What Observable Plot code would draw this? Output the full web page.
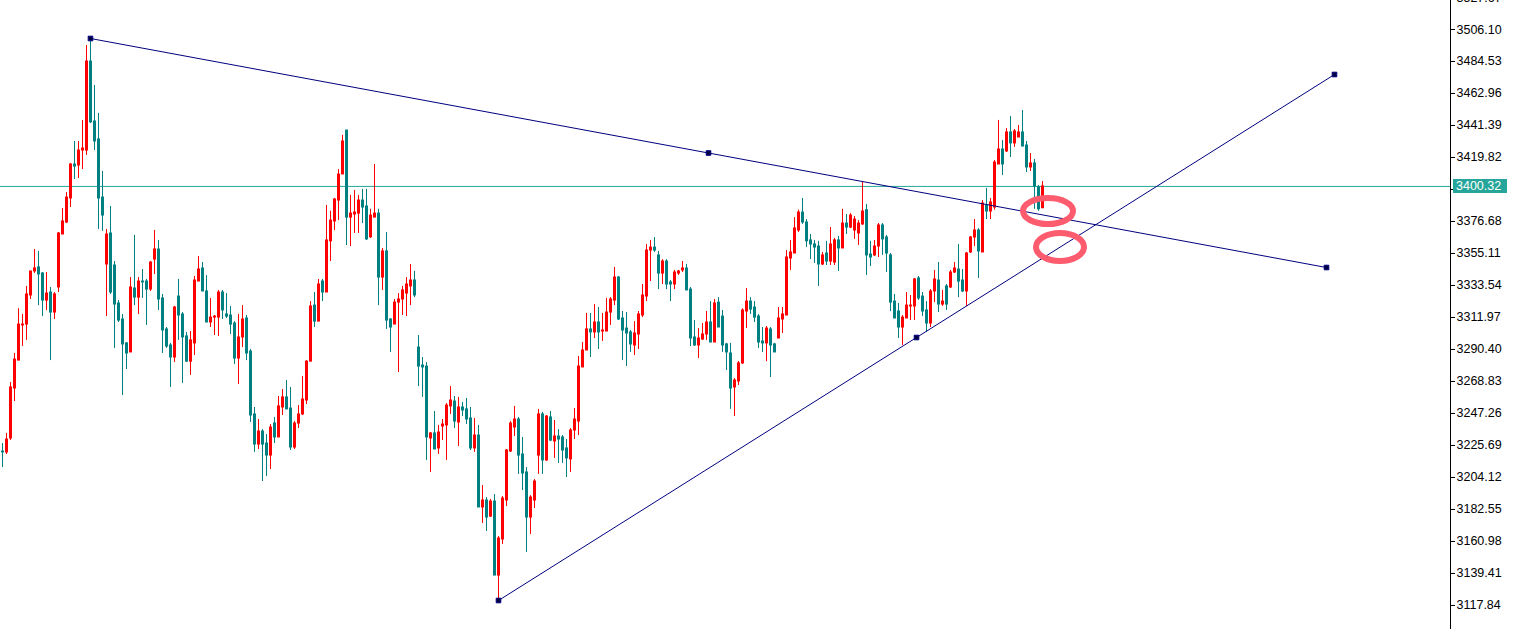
<!DOCTYPE html>
<html><head><meta charset="utf-8">
<script src="https://cdn.jsdelivr.net/npm/d3@7"></script>
<script src="https://cdn.jsdelivr.net/npm/@observablehq/plot@0.6"></script>
<style>
html,body{margin:0;padding:0;background:#fff;overflow:hidden}
#chart svg{display:block}
</style></head><body><div id="chart"></div>
<script>
const opens = [
3221.6,3221.0,3230.4,3264.1,3282.9,3306.6,3307.2,3326.8,3343.0,3345.7,
3341.6,3323.4,3328.8,3315.3,3332.2,3367.9,3376.0,3392.2,3415.1,3414.4,
3424.5,3424.5,3484.5,3444.1,3432.0,3392.8,3347.7,3368.6,3347.0,3321.4,
3310.6,3294.5,3288.4,3331.5,3325.4,3336.2,3336.2,3330.8,3351.0,3357.8,
3324.8,3303.9,3293.1,3285.0,3326.1,3314.0,3299.2,3282.2,3294.5,3336.2,
3345.0,3329.5,3308.6,3311.9,3311.9,3328.8,3314.0,3313.3,3307.9,3284.3,
3298.5,3311.3,3289.0,3246.6,3226.3,3235.1,3227.0,3218.9,3240.5,3231.1,
3251.3,3258.1,3250.6,3224.3,3240.5,3246.6,3256.0,3282.2,3320.0,3309.2,
3336.2,3328.8,3363.3,3376.7,3390.8,3408.4,3438.0,3379.3,3381.4,3382.0,
3390.8,3386.8,3366.0,3379.3,3382.0,3338.9,3356.5,3310.6,3307.2,3322.0,
3324.1,3328.1,3332.9,3336.9,3291.7,3279.6,3278.9,3230.4,3233.8,3223.7,
3238.5,3239.2,3252.0,3255.3,3241.2,3251.3,3250.0,3243.9,3223.7,3232.4,
3183.9,3188.6,3177.7,3187.9,3138.0,3162.3,3188.6,3221.6,3237.8,3243.2,
3219.6,3207.5,3177.1,3188.6,3218.9,3246.6,3215.6,3244.6,3228.4,3231.7,
3231.1,3223.7,3216.3,3235.8,3241.8,3278.3,3289.7,3303.9,3301.9,3308.6,
3302.5,3302.5,3315.3,3323.4,3338.9,3311.3,3304.5,3301.9,3293.1,3300.5,
3313.3,3326.1,3357.1,3359.1,3353.8,3341.6,3349.7,3335.6,3334.2,3341.6,
3343.7,3345.0,3330.8,3298.5,3293.1,3297.1,3300.5,3308.6,3295.1,3322.0,
3312.6,3293.8,3287.7,3264.8,3268.8,3281.0,3316.0,3322.7,3318.7,3312.6,
3295.8,3294.5,3303.9,3293.8,3297.8,3310.6,3313.3,3351.7,3355.1,3370.6,
3382.7,3376.0,3363.9,3361.2,3359.8,3347.7,3355.1,3349.7,3349.0,3363.9,
3358.5,3375.3,3372.6,3370.6,3368.6,3374.7,3384.3,3354.4,3353.8,3359.8,
3374.0,3365.9,3353.8,3322.7,3316.0,3305.2,3311.3,3319.4,3319.4,3338.3,
3326.1,3316.7,3307.9,3329.5,3336.9,3320.7,3332.9,3332.2,3342.3,3344.3,
3336.9,3329.5,3355.8,3365.9,3370.6,3355.8,3387.5,3383.4,3386.1,3415.1,
3425.2,3423.9,3436.7,3429.3,3433.3,3436.7,3427.9,3413.1,3415.8,3399.6,
3385.6];
const highs = [
3227.0,3233.8,3268.1,3287.7,3317.9,3314.0,3332.9,3343.0,3357.8,3356.5,
3342.3,3342.3,3332.2,3328.8,3369.3,3385.4,3396.2,3415.8,3430.6,3430.6,
3444.8,3495.3,3500.0,3468.4,3449.5,3410.4,3371.3,3386.8,3349.7,3323.4,
3314.0,3295.1,3338.9,3367.3,3338.9,3344.3,3337.6,3349.7,3370.6,3363.9,
3327.5,3305.2,3294.5,3319.4,3337.6,3315.3,3301.9,3302.5,3339.6,3353.1,
3349.0,3340.2,3324.8,3313.3,3330.2,3330.2,3328.1,3319.4,3309.2,3314.0,
3320.0,3313.3,3290.4,3251.3,3243.2,3236.4,3233.1,3239.8,3244.6,3258.7,
3263.4,3269.5,3264.8,3241.8,3252.6,3272.2,3282.9,3322.7,3328.8,3337.6,
3337.6,3387.5,3383.6,3392.2,3411.7,3434.7,3438.0,3394.3,3397.6,3394.3,
3398.3,3398.3,3384.9,3415.1,3384.9,3358.5,3369.3,3311.3,3324.1,3328.1,
3332.9,3338.9,3347.7,3343.0,3299.8,3285.0,3281.6,3234.4,3248.6,3239.2,
3243.2,3254.0,3265.4,3258.7,3258.1,3254.7,3257.4,3251.3,3243.9,3239.2,
3198.7,3190.6,3189.3,3192.6,3164.3,3191.3,3223.0,3241.8,3252.0,3244.6,
3231.1,3210.8,3191.9,3202.7,3250.0,3248.0,3245.9,3248.6,3242.5,3236.4,
3232.4,3229.7,3237.1,3250.6,3285.7,3295.1,3314.7,3314.7,3320.7,3318.7,
3314.7,3324.8,3325.4,3345.7,3339.6,3316.0,3315.3,3303.2,3309.2,3316.0,
3334.2,3361.2,3363.9,3365.9,3356.5,3351.0,3351.0,3336.9,3343.7,3343.7,
3349.7,3347.7,3332.2,3309.9,3304.5,3307.9,3316.0,3322.7,3324.1,3325.4,
3316.7,3294.5,3294.5,3270.8,3282.3,3317.9,3331.5,3325.4,3322.7,3314.0,
3305.2,3305.9,3305.2,3294.5,3318.7,3318.7,3357.1,3363.9,3379.3,3384.3,
3392.2,3378.0,3367.9,3363.9,3363.3,3355.8,3363.3,3372.6,3365.3,3366.6,
3384.9,3381.4,3382.0,3380.0,3377.3,3403.6,3388.1,3363.3,3363.9,3375.3,
3375.3,3367.3,3355.1,3327.5,3321.4,3313.3,3328.8,3326.8,3338.3,3339.6,
3328.8,3322.7,3330.8,3343.7,3349.0,3330.2,3334.2,3343.7,3349.0,3361.2,
3344.3,3355.8,3366.6,3378.0,3371.9,3390.8,3399.0,3392.2,3417.8,3444.8,
3431.3,3439.4,3447.4,3438.7,3441.4,3451.5,3430.6,3422.5,3418.5,3400.9,
3403.6];
const lows = [
3210.8,3219.6,3229.0,3255.3,3282.9,3292.4,3296.5,3324.1,3341.6,3320.0,
3312.6,3316.7,3282.9,3310.6,3328.8,3367.9,3375.3,3386.1,3405.0,3405.7,
3411.7,3421.2,3442.7,3424.5,3371.3,3370.0,3312.6,3327.5,3291.1,3308.6,
3259.4,3276.9,3288.4,3320.0,3314.0,3324.8,3306.6,3329.5,3341.0,3316.7,
3287.7,3291.1,3264.8,3281.6,3296.5,3267.5,3281.6,3272.9,3286.3,3336.2,
3329.5,3308.6,3305.2,3299.8,3299.2,3310.6,3311.3,3300.5,3280.3,3266.8,
3291.7,3282.9,3241.2,3221.0,3223.0,3201.4,3204.8,3209.5,3227.0,3231.1,
3245.9,3250.0,3222.3,3223.0,3237.1,3245.9,3253.3,3282.2,3305.2,3309.2,
3322.7,3328.8,3349.7,3370.6,3377.3,3408.4,3360.5,3359.8,3368.6,3368.6,
3375.3,3363.9,3365.3,3379.3,3320.0,3330.2,3303.9,3288.4,3307.2,3274.9,
3313.3,3312.6,3320.0,3325.4,3265.4,3258.1,3215.6,3207.5,3223.0,3219.6,
3229.0,3215.6,3246.6,3237.1,3225.0,3245.2,3239.8,3222.3,3221.0,3183.9,
3173.1,3167.7,3177.1,3138.0,3121.2,3158.9,3184.6,3221.0,3231.7,3206.2,
3195.3,3153.5,3165.7,3183.2,3206.2,3206.2,3215.0,3228.4,3217.0,3213.6,
3213.6,3204.1,3207.5,3229.7,3232.4,3278.3,3289.7,3285.0,3297.8,3290.4,
3295.8,3302.5,3306.6,3320.0,3309.9,3282.9,3278.9,3288.4,3286.3,3290.4,
3311.9,3322.7,3336.2,3355.8,3330.8,3334.2,3330.8,3322.7,3330.8,3340.3,
3342.3,3330.2,3292.4,3292.4,3284.3,3296.5,3296.5,3295.1,3295.1,3305.2,
3288.4,3276.2,3250.0,3245.2,3266.1,3280.3,3304.5,3314.0,3308.6,3291.1,
3288.4,3282.2,3271.5,3288.4,3297.8,3301.2,3313.3,3343.7,3355.1,3369.3,
3374.7,3359.1,3351.0,3348.4,3332.9,3347.0,3347.0,3347.0,3347.0,3343.0,
3358.5,3367.9,3371.9,3364.6,3360.5,3374.0,3340.3,3346.3,3353.1,3352.4,
3353.8,3342.3,3316.0,3311.3,3297.8,3293.1,3311.3,3309.9,3309.9,3323.4,
3312.6,3301.9,3305.2,3322.0,3315.3,3319.4,3316.7,3331.5,3341.6,3325.4,
3328.8,3319.4,3355.1,3359.8,3338.3,3355.8,3378.0,3378.0,3384.3,3415.1,
3407.7,3423.2,3419.8,3426.6,3433.3,3427.2,3409.7,3410.4,3384.9,3383.6,
3385.6];
const closes = [
3221.0,3229.7,3264.8,3283.6,3307.2,3307.2,3327.5,3343.0,3345.0,3341.0,
3323.4,3328.1,3315.3,3327.5,3368.6,3376.7,3392.8,3415.1,3413.7,3424.5,
3425.9,3484.5,3443.5,3430.6,3392.2,3380.7,3367.9,3328.8,3320.7,3309.9,
3293.8,3287.7,3332.2,3325.4,3336.2,3335.6,3330.8,3349.0,3357.8,3324.1,
3303.2,3292.4,3285.0,3318.7,3313.3,3298.5,3282.2,3296.5,3336.9,3344.3,
3329.5,3308.6,3311.9,3312.6,3328.8,3316.7,3312.6,3307.2,3284.3,3298.5,
3310.6,3287.7,3245.9,3226.3,3235.1,3226.3,3218.9,3237.8,3231.1,3252.0,
3258.1,3250.0,3224.3,3240.5,3246.6,3256.7,3282.2,3319.4,3309.2,3334.2,
3328.8,3363.9,3377.3,3391.5,3408.3,3430.6,3379.3,3382.0,3382.7,3390.8,
3386.1,3364.6,3380.7,3382.0,3338.9,3356.5,3309.9,3305.2,3322.0,3324.1,
3330.2,3334.2,3336.9,3326.8,3278.9,3278.3,3231.1,3233.8,3223.0,3234.4,
3239.8,3252.6,3256.0,3241.8,3251.3,3249.3,3243.2,3223.7,3232.4,3183.9,
3188.6,3177.1,3187.9,3138.0,3163.0,3189.9,3222.3,3240.5,3243.2,3218.9,
3206.8,3177.1,3190.6,3201.4,3246.6,3215.6,3245.2,3229.0,3231.7,3229.7,
3222.3,3217.0,3235.8,3243.2,3278.9,3289.7,3303.9,3301.9,3308.6,3301.9,
3303.2,3315.3,3324.1,3338.9,3310.6,3303.2,3301.2,3293.8,3301.2,3314.0,
3326.8,3357.1,3359.1,3357.1,3341.6,3349.7,3334.2,3334.2,3342.3,3343.0,
3345.0,3330.2,3297.8,3293.1,3297.8,3300.5,3308.6,3295.1,3321.4,3305.2,
3293.1,3288.4,3264.1,3269.5,3281.0,3316.7,3322.7,3317.3,3311.9,3295.1,
3294.5,3304.5,3293.1,3288.4,3311.3,3314.0,3352.4,3355.8,3372.0,3382.7,
3376.0,3363.3,3361.2,3359.1,3347.7,3353.8,3349.7,3361.2,3363.9,3358.5,
3375.3,3372.6,3380.7,3378.0,3375.3,3383.4,3353.8,3352.4,3359.8,3374.0,
3364.6,3355.1,3322.0,3311.3,3305.2,3311.9,3320.0,3320.0,3337.6,3324.8,
3316.0,3307.9,3329.5,3337.6,3320.7,3322.7,3320.7,3342.3,3345.0,3336.2,
3329.5,3355.1,3365.9,3370.6,3356.5,3388.8,3383.4,3389.5,3416.4,3425.2,
3415.1,3436.7,3429.3,3437.4,3436.7,3427.2,3413.1,3415.8,3400.3,3384.9,
3400.32];

const lastPrice = 3400.32;
const tickValues = [3117.84,3139.41,3160.98,3182.55,3204.12,3225.69,3247.26,3268.83,3290.40,3311.97,
  3333.54,3355.11,3376.68,3398.25,3419.82,3441.39,3462.96,3484.53,3506.10,3527.67];

// trendlines: bar index and price of the three handles (start, middle, end)
const upperIdx = [22, 176.5, 331];
const upperPrice = [3500.03, 3422.85, 3345.66];
const lowerIdx = [124, 228.5, 333];
const lowerPrice = [3121.19, 3298.48, 3475.77];

// red annotation ellipses (bar index, price)
const noteIdx = [261.5, 264.5];
const notePrice = [3383.4, 3359.15];

const RED = "#ff0000", TEAL = "#008080", NAVY = "#000080", LINE = "#26a69a";

const candles = opens.map((o, i) => ({
  i, o, h: highs[i], l: lows[i], c: closes[i],
  col: closes[i] > o ? RED : TEAL
}));
const upper = upperIdx.map((i, k) => ({i, p: upperPrice[k]}));
const lower = lowerIdx.map((i, k) => ({i, p: lowerPrice[k]}));
const upperEnds = [upper[0], upper[2]];
const lowerEnds = [lower[0], lower[2]];

const chart = Plot.plot({
  width: 1519, height: 629,
  marginLeft: 0, marginRight: 69, marginTop: 0, marginBottom: 0,
  x: {domain: [-0.5, 362], axis: null},
  y: {domain: [3101.64, 3525.65], axis: null},
  style: {background: "#fff", color: "#000", fontFamily: "Liberation Sans, Arial, sans-serif", fontSize: "12.5px"},
  marks: [
    Plot.ruleY([lastPrice], {stroke: LINE, strokeWidth: 1}),
    Plot.ruleX(candles, {x: "i", y1: "h", y2: "l", stroke: "col", strokeWidth: 1}),
    Plot.ruleX(candles, {x: "i", y1: d => Math.max(d.o, d.c), y2: d => Math.min(d.o, d.c),
      stroke: "col", strokeWidth: 3, insetTop: -0.5, insetBottom: -0.5}),
    Plot.line(upperEnds, {x: "i", y: "p", stroke: NAVY, strokeWidth: 1}),
    Plot.line(lowerEnds, {x: "i", y: "p", stroke: NAVY, strokeWidth: 1}),
    Plot.dot(upper.concat(lower), {x: "i", y: "p", symbol: "square", r: 2.6, fill: "#000040", stroke: NAVY, strokeWidth: 1}),
    Plot.ruleX([362], {stroke: "#000", strokeWidth: 1}),
    Plot.axisY({anchor: "right", ticks: tickValues, tickFormat: d => d.toFixed(2),
      tickSize: 4, tickPadding: 2, fill: "#000", stroke: "#000"})
  ]
});
document.getElementById("chart").appendChild(chart);

const svg = d3.select(chart);
const xs = chart.scale("x"), ys = chart.scale("y");
const py = ys.apply(lastPrice);
const gLab = svg.append("g").attr("text-anchor", "start");
gLab.append("rect").attr("x", 1453).attr("y", Math.round(py) - 7).attr("width", 54).attr("height", 14).attr("fill", LINE);
gLab.append("text").attr("x", 1456).attr("y", py).attr("dy", "0.36em").attr("fill", "#fff")
  .attr("text-anchor", "start")
  .attr("font-family", "Liberation Sans, Arial, sans-serif").attr("font-size", "12.5px").text(lastPrice.toFixed(2));

const ell = [{rx: 25, ry: 13}, {rx: 24, ry: 14}];
noteIdx.forEach((i, k) => {
  svg.append("ellipse")
    .attr("cx", xs.apply(i)).attr("cy", ys.apply(notePrice[k]))
    .attr("rx", ell[k].rx).attr("ry", ell[k].ry)
    .attr("fill", "none").attr("stroke", "#fd5b6e").attr("stroke-width", 6);
});
</script></body></html>
